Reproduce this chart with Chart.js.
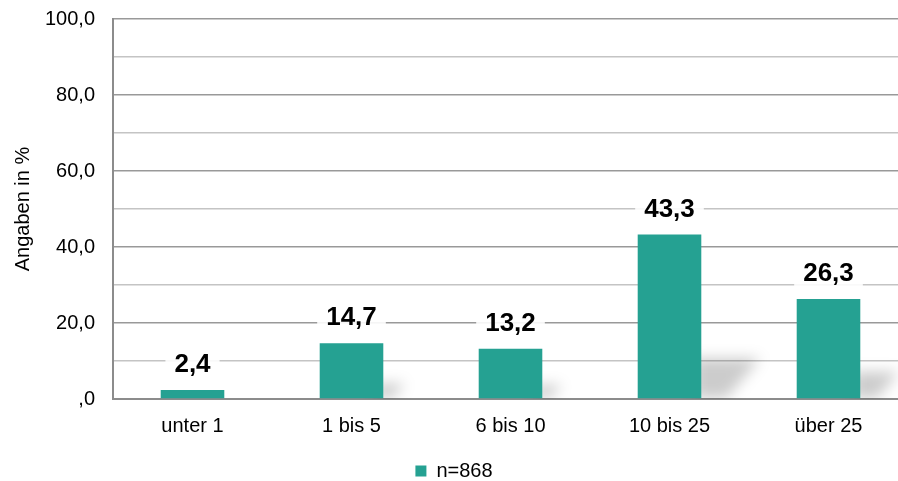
<!DOCTYPE html>
<html><head><meta charset="utf-8">
<script src="https://cdn.jsdelivr.net/npm/chart.js@4/dist/chart.umd.min.js"></script>
<style>
html,body{margin:0;padding:0;background:#fff;overflow:hidden;height:481px;}
#wrap{width:908px;height:502px;position:relative;margin-top:-11px;}
</style></head>
<body><div id="wrap"><canvas id="c"></canvas></div>
<script>
const categories = ['unter 1', '1 bis 5', '6 bis 10', '10 bis 25', 'über 25'];
const values = [2.4, 14.7, 13.2, 43.3, 26.3];
const seriesName = 'n=868';
const yTickLabels = [0, 20, 40, 60, 80, 100];

const FONT = '"Liberation Sans", Arial, sans-serif';
const fmt = v => v === 0 ? ',0' : v.toFixed(1).replace('.', ',');

const shadowPlugin = {
  id: 'barShadow',
  beforeDatasetsDraw(chart) {
    const ctx = chart.ctx;
    const meta = chart.getDatasetMeta(0);
    ctx.save();
    ctx.beginPath();
    ctx.rect(chart.chartArea.left, chart.chartArea.top, chart.chartArea.right - chart.chartArea.left, chart.chartArea.bottom - chart.chartArea.top);
    ctx.clip();
    ctx.filter = 'blur(7px)';
    meta.data.forEach(bar => {
      const h = Math.min((bar.base - bar.y) * 0.28, 42);
      if (h < 10) return;
      const right = bar.x + bar.width / 2;
      const b = bar.base;
      ctx.fillStyle = 'rgba(0,0,0,0.2)';
      ctx.beginPath();
      ctx.moveTo(right - 8, b);
      ctx.lineTo(right - 8, b - h * 0.95);
      ctx.lineTo(right + h * 1.4, b - h * 0.95);
      ctx.lineTo(right + h * 0.6, b);
      ctx.closePath();
      ctx.fill();
    });
    ctx.restore();
  }
};

const labelPlugin = {
  id: 'valueLabels',
  afterDatasetsDraw(chart) {
    const ctx = chart.ctx;
    const meta = chart.getDatasetMeta(0);
    ctx.save();
    ctx.font = 'bold 26px ' + FONT;
    ctx.textAlign = 'center';
    ctx.textBaseline = 'middle';
    meta.data.forEach((bar, i) => {
      const txt = fmt(values[i]);
      const w = ctx.measureText(txt).width + 18;
      const cy = bar.y - 26;
      ctx.fillStyle = 'rgba(255,255,255,0.9)';
      ctx.fillRect(bar.x - w / 2, cy - 14, w, 28);
      ctx.fillStyle = '#000';
      ctx.fillText(txt, bar.x, cy + 1);
    });
    ctx.restore();
  }
};

new Chart(document.getElementById('c'), {
  type: 'bar',
  data: {
    labels: categories,
    datasets: [{
      label: seriesName,
      data: values,
      backgroundColor: '#25a192',
      borderWidth: 0,
      barPercentage: 0.8,
      categoryPercentage: 0.5
    }]
  },
  plugins: [shadowPlugin, labelPlugin],
  options: {
    responsive: true,
    maintainAspectRatio: false,
    animation: false,
    layout: { padding: { top: 9, left: 0, right: 0, bottom: 0 } },
    plugins: {
      tooltip: { enabled: false },
      legend: {
        position: 'bottom',
        labels: {
          boxWidth: 11, boxHeight: 11, padding: 0,
          color: '#000',
          font: { family: FONT, size: 20 }
        }
      }
    },
    scales: {
      x: {
        grid: { display: false, drawTicks: false },
        border: { color: '#8c8c8c', width: 2 },
        ticks: { color: '#000', padding: 15, font: { family: FONT, size: 20 } },
        afterFit(s) { s.height = 62; }
      },
      y: {
        min: 0, max: 100,
        grid: {
          color: c => (c.tick && c.tick.value % 20 === 0) ? '#999999' : '#c4c4c4',
          lineWidth: 1.6, drawTicks: false
        },
        border: { color: '#8c8c8c', width: 2 },
        title: { display: true, text: 'Angaben in %', color: '#000', padding: { top: 11, bottom: 0 }, font: { family: FONT, size: 20 } },
        ticks: {
          stepSize: 10, padding: 18, color: '#000',
          font: { family: FONT, size: 20 },
          callback: v => yTickLabels.includes(v) ? fmt(v) : ''
        },
        afterFit(s) { s.width = 113; }
      }
    }
  }
});
</script></body></html>
